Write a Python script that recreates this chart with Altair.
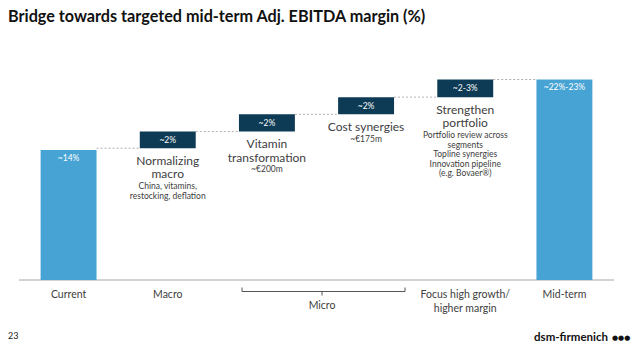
import altair as alt
import pandas as pd

# ---- data ----
steps = ["Current", "Macro", "Vitamin", "Cost", "Strengthen", "Mid-term"]
axis_labels = ["Current", "Macro", "", "", "Focus high growth/\nhigher margin", "Mid-term"]
current_value = 14.0
box_start = [14.2, 16.0, 17.85, 19.7]
box_end = [16.0, 17.85, 19.7, 21.6]
target_value = 21.6
value_labels = ["~14%", "~2%", "~2%", "~2%", "~2-3%", "~22%-23%"]
headers = ["Normalizing\nmacro", "Vitamin\ntransformation", "Cost synergies", "Strengthen\nportfolio"]
details = [
    "China, vitamins,\nrestocking, deflation",
    "~€200m",
    "~€175m",
    "Portfolio review across\nsegments\nTopline synergies\nInnovation pipeline\n(e.g. Bovaer®)",
]

BLUE = "#47A3D3"
NAVY = "#0D3A54"
TEXT = "#404040"
FONT = "Lato"

rows = [{"i": 0, "y0": 0.0, "y1": current_value, "kind": "total", "label": value_labels[0],
         "head": "", "detail": "", "nhead": 0, "cat": axis_labels[0]}]
for k in range(4):
    rows.append({"i": k + 1, "y0": box_start[k], "y1": box_end[k], "kind": "delta",
                 "label": value_labels[k + 1], "head": headers[k], "detail": details[k],
                 "nhead": headers[k].count("\n") + 1, "cat": axis_labels[k + 1]})
rows.append({"i": 5, "y0": 0.0, "y1": target_value, "kind": "total", "label": value_labels[5],
             "head": "", "detail": "", "nhead": 0, "cat": axis_labels[5]})
df = pd.DataFrame(rows)

levels = box_start + [target_value]
conn = pd.DataFrame({"k": list(range(5)), "level": levels})

HALF = 0.282
# scales span the whole 640x352 canvas (plot starts at x=19 px, baseline at y=280 px)
xscale = alt.Scale(domain=[-0.6916, 5.7622], nice=False, zero=False)
yscale = alt.Scale(domain=[-7.756, 30.164], nice=False, zero=False)


def X(f):
    return alt.X(f, scale=xscale, axis=None)


def Y(f):
    return alt.Y(f, scale=yscale, axis=None)


base = alt.Chart(df).transform_calculate(
    xl=f"datum.i - {HALF}", xr=f"datum.i + {HALF}", ym="(datum.y0 + datum.y1) / 2"
)

bars = base.mark_bar().encode(
    x=X("xl:Q"), x2="xr:Q", y=Y("y0:Q"), y2="y1:Q",
    color=alt.Color("kind:N", scale=alt.Scale(domain=["total", "delta"], range=[BLUE, NAVY]),
                    legend=None),
)

baseline = alt.Chart(pd.DataFrame({"lo": [-0.5], "hi": [5.5], "z": [0.0]})).mark_rule(
    color="#a6a6a6", strokeWidth=1
).encode(x=X("lo:Q"), x2="hi:Q", y=Y("z:Q"))

cat_text = base.mark_text(
    color=TEXT, font=FONT, fontSize=10.5, baseline="top", lineBreak="\n", lineHeight=14
).encode(x=X("i:Q"), y=alt.value(289.5), text="cat:N")

total_text = base.transform_filter("datum.kind == 'total'").mark_text(
    color="white", font=FONT, fontSize=8.5, baseline="middle", dy=8
).encode(x=X("i:Q"), y=Y("y1:Q"), text="label:N")

delta_text = base.transform_filter("datum.kind == 'delta'").mark_text(
    color="white", font=FONT, fontSize=8.5, baseline="middle"
).encode(x=X("i:Q"), y=Y("ym:Q"), text="label:N")

head_text = base.transform_filter("datum.kind == 'delta'").mark_text(
    color=TEXT, font=FONT, fontSize=12, baseline="top", dy=7.8, lineBreak="\n", lineHeight=13.5
).encode(x=X("i:Q"), y=Y("y0:Q"), text="head:N")

detail2 = base.transform_filter("datum.kind == 'delta' && datum.nhead == 2").mark_text(
    color=TEXT, font=FONT, fontSize=8.5, baseline="top", dy=34, lineBreak="\n", lineHeight=9.5
).encode(x=X("i:Q"), y=Y("y0:Q"), text="detail:N")

detail1 = base.transform_filter("datum.kind == 'delta' && datum.nhead == 1").mark_text(
    color=TEXT, font=FONT, fontSize=8.5, baseline="top", dy=21, lineBreak="\n", lineHeight=9.5
).encode(x=X("i:Q"), y=Y("y0:Q"), text="detail:N")

connectors = alt.Chart(conn).transform_calculate(
    a=f"datum.k + {HALF}", b=f"datum.k + 1 - {HALF}"
).mark_rule(color="#b0b0b0", strokeDash=[2, 2], strokeWidth=1).encode(
    x=X("a:Q"), x2="b:Q", y=Y("level:Q")
)

one = pd.DataFrame({"a": [0]})
BR = "#555555"
bracket_h = alt.Chart(one).mark_rule(color=BR, strokeWidth=1).encode(
    x=alt.value(242), x2=alt.value(405), y=alt.value(291.5))
bracket_l = alt.Chart(one).mark_rule(color=BR, strokeWidth=1).encode(
    x=alt.value(242), y=alt.value(287.5), y2=alt.value(291.5))
bracket_r = alt.Chart(one).mark_rule(color=BR, strokeWidth=1).encode(
    x=alt.value(405), y=alt.value(287.5), y2=alt.value(291.5))
bracket_m = alt.Chart(one).mark_rule(color=BR, strokeWidth=1).encode(
    x=alt.value(322), y=alt.value(291.5), y2=alt.value(295.5))

ann = pd.DataFrame({
    "micro": ["Micro"],
    "title": ["Bridge towards targeted mid-term Adj. EBITDA margin (%)"],
    "page": ["23"],
    "logo": ["dsm-firmenich"],
    "dots": ["●●●"],
})
micro = alt.Chart(ann).mark_text(font=FONT, fontSize=10.5, color=TEXT, baseline="middle").encode(
    x=alt.value(322), y=alt.value(305.5), text="micro:N")
title = alt.Chart(ann).mark_text(font=FONT, fontSize=16.2, fontWeight="bold", color="#111111",
                                 align="left", baseline="middle").encode(
    x=alt.value(8), y=alt.value(17), text="title:N")
page = alt.Chart(ann).mark_text(font=FONT, fontSize=9, color="#222222", align="left",
                                baseline="middle").encode(
    x=alt.value(8), y=alt.value(336), text="page:N")
logo = alt.Chart(ann).mark_text(font=FONT, fontSize=11.5, fontWeight="bold", color="#111111",
                                align="right", baseline="middle").encode(
    x=alt.value(608), y=alt.value(338), text="logo:N")
dots = alt.Chart(ann).mark_text(font="DejaVu Sans", fontSize=7, color="#111111",
                                align="left", baseline="middle").encode(
    x=alt.value(612), y=alt.value(338), text="dots:N")

chart = alt.layer(
    baseline, connectors, bars, cat_text, total_text, delta_text, head_text, detail2, detail1,
    bracket_h, bracket_l, bracket_r, bracket_m, micro, title, page, logo, dots
).properties(
    width=640, height=352, padding=0,
    autosize=alt.AutoSizeParams(type="fit", contains="padding"),
).configure_view(strokeWidth=0)

chart.save("out.html", embed_options={"renderer": "svg", "actions": False})
